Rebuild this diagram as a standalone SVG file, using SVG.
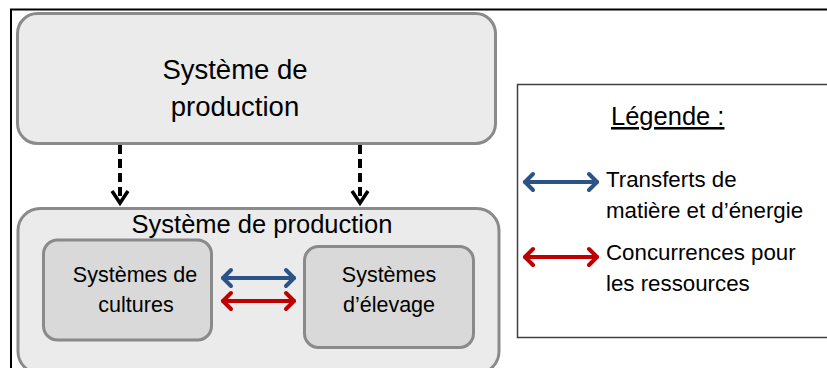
<svg xmlns="http://www.w3.org/2000/svg" width="827" height="368" viewBox="0 0 827 368">
<style>
.title{font-family:"Liberation Sans",Arial,sans-serif;fill:#000;text-anchor:middle}
.lbl{font-family:"Liberation Sans",Arial,sans-serif;fill:#000;font-size:22.3px}
.outer{fill:#ebebeb;stroke:#8a8a8a;stroke-width:3}
.inner{fill:#d9d9d9;stroke:#8a8a8a;stroke-width:3}
.dash{stroke:#000;stroke-width:4;stroke-dasharray:9,5;fill:none}
.head{stroke:#000;stroke-width:3.5;fill:none;stroke-linejoin:miter}
.blue{stroke:#2b5387;stroke-width:4;fill:none;stroke-linecap:round;stroke-linejoin:round}
.red{stroke:#c00000;stroke-width:4;fill:none;stroke-linecap:round;stroke-linejoin:round}
</style>
<rect width="827" height="368" fill="#fff"/>
<g id="frame">
<line x1="10" y1="9.5" x2="827" y2="9.5" stroke="#000" stroke-width="2"/>
<line x1="11" y1="9" x2="11" y2="368" stroke="#000" stroke-width="2"/>
</g>
<g id="top-system">
<rect class="outer" x="17.5" y="13.5" width="478" height="130" rx="20"/>
<text class="title" x="235" y="79" font-size="27.5">Système de</text>
<text class="title" x="235" y="116" font-size="27.5">production</text>
</g>
<g id="bottom-system">
<rect class="outer" x="18" y="208.5" width="481" height="165" rx="22"/>
<text class="title" x="262" y="233" font-size="25.5">Système de production</text>
</g>
<g id="cultures">
<rect class="inner" x="43.5" y="240" width="168" height="100" rx="14"/>
<text class="title" x="135" y="282" font-size="21.5">Systèmes de</text>
<text class="title" x="136" y="312" font-size="21.5">cultures</text>
</g>
<g id="elevage">
<rect class="inner" x="304.5" y="246.5" width="169" height="101" rx="14"/>
<text class="title" x="389" y="282" font-size="21.5">Systèmes</text>
<text class="title" x="389" y="312" font-size="21.5">d’élevage</text>
</g>
<g id="connectors">
<line class="dash" x1="120" y1="145" x2="120" y2="202"/>
<polyline class="head" points="112,191 120,203 128,191"/>
<line class="dash" x1="360" y1="145" x2="360" y2="202"/>
<polyline class="head" points="352,191 360,203 368,191"/>
<line class="blue" x1="223" y1="278" x2="294" y2="278"/>
<polyline class="blue" points="231,270 223,278 231,286"/>
<polyline class="blue" points="286,270 294,278 286,286"/>
<line class="red" x1="223" y1="301" x2="294" y2="301"/>
<polyline class="red" points="231,293 223,301 231,309"/>
<polyline class="red" points="286,293 294,301 286,309"/>
</g>
<g id="legend">
<rect x="517.5" y="84.5" width="320" height="253" fill="#fff" stroke="#404040" stroke-width="1.5"/>
<text x="611" y="125" font-family="Liberation Sans,Arial,sans-serif" font-size="25.5" text-decoration="underline">Légende :</text>
<line class="blue" x1="525" y1="182" x2="597" y2="182"/>
<polyline class="blue" points="533,174 525,182 533,190"/>
<polyline class="blue" points="589,174 597,182 589,190"/>
<text class="lbl" x="606" y="187">Transferts de</text>
<text class="lbl" x="606" y="218">matière et d’énergie</text>
<line class="red" x1="525" y1="257" x2="597" y2="257"/>
<polyline class="red" points="533,249 525,257 533,265"/>
<polyline class="red" points="589,249 597,257 589,265"/>
<text class="lbl" x="606" y="260">Concurrences pour</text>
<text class="lbl" x="606" y="291">les ressources</text>
</g>
</svg>
